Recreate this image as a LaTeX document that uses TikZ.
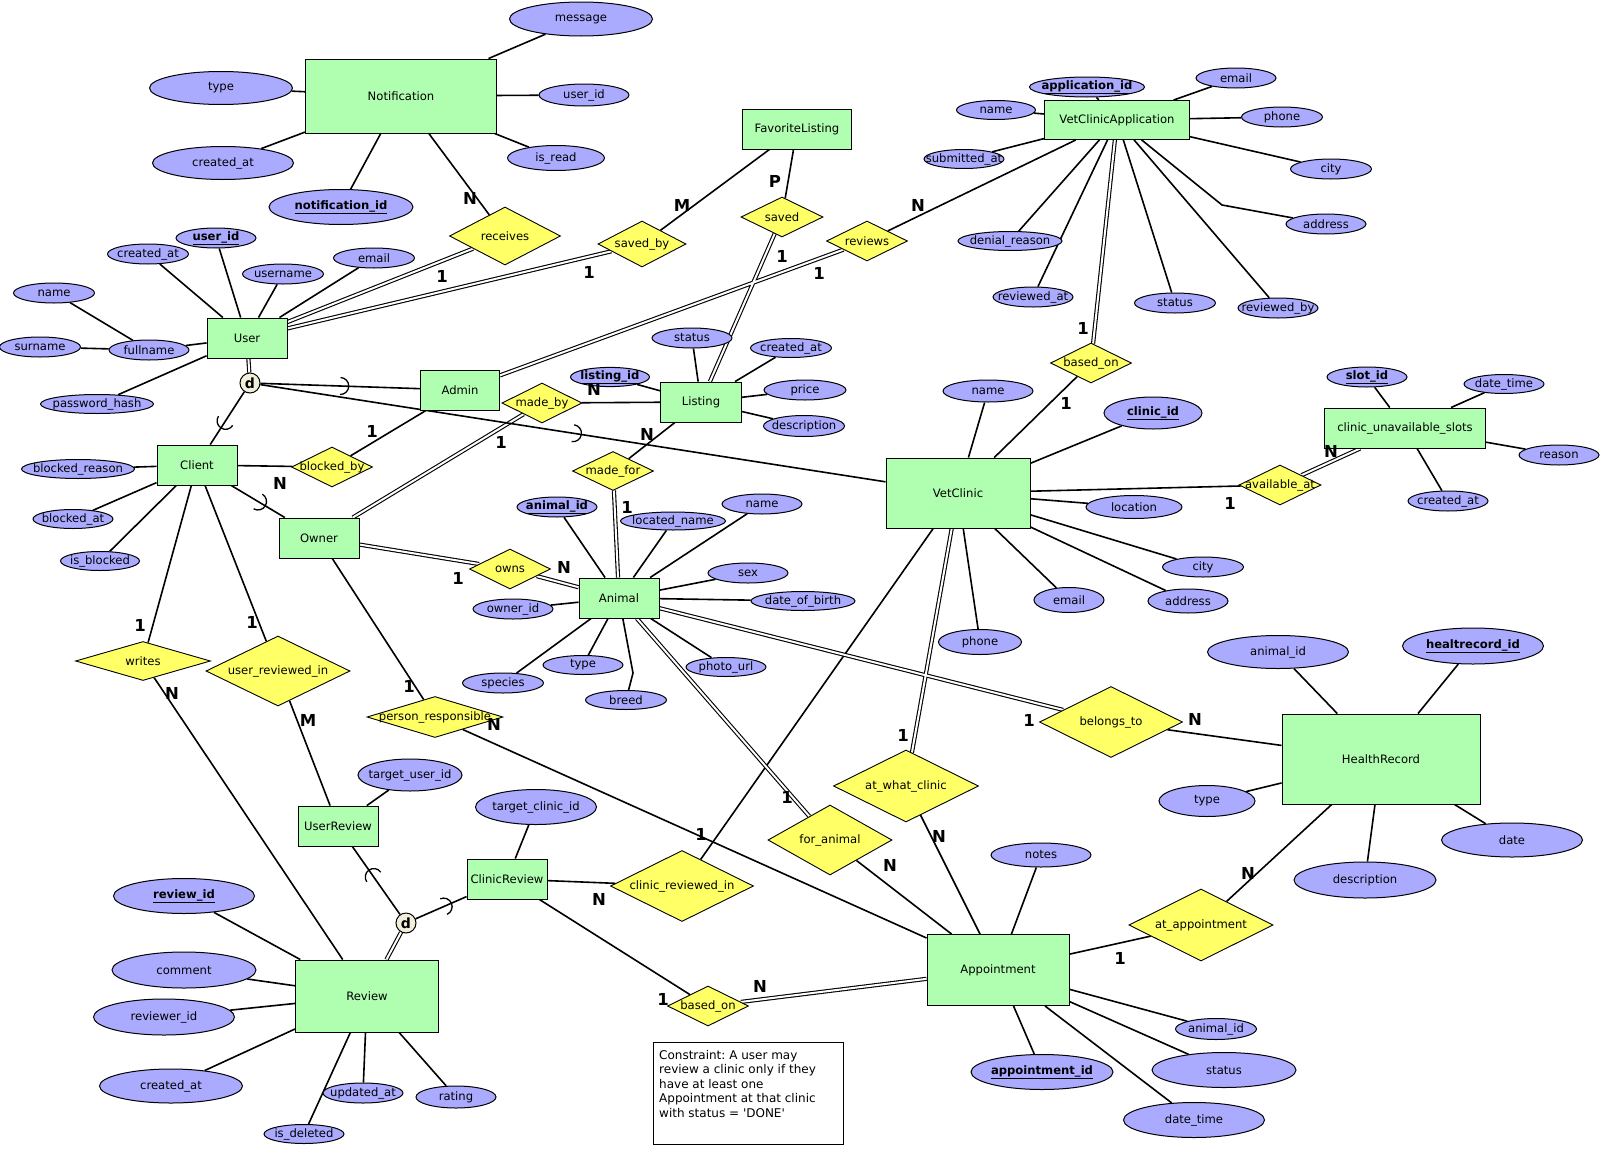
\documentclass[tikz,border=0pt]{standalone}
\usepackage{fontspec}
\setmainfont{DejaVu Sans}
\usetikzlibrary{shapes.geometric,backgrounds}

\definecolor{entgreen}{RGB}{176,255,176}
\definecolor{attrblue}{RGB}{170,170,255}
\definecolor{relyellow}{RGB}{255,255,102}
\definecolor{speccream}{RGB}{242,238,218}

\newcommand{\tx}[1]{\makebox[0pt]{#1}}
\newcommand{\key}[1]{\makebox[0pt]{\underline{\textbf{#1}}}}
\frenchspacing

\tikzset{
  sz/.style 2 args={minimum width=#1pt, minimum height=#2pt},
  ent/.style={rectangle, draw, fill=entgreen, line width=0.9pt, inner sep=0pt},
  attr/.style={ellipse, draw, fill=attrblue, line width=1pt, inner sep=0pt},
  rel/.style={diamond, draw, fill=relyellow, line width=0.9pt, inner sep=0pt},
  spec/.style={circle, draw, fill=speccream, line width=1pt, minimum size=20pt, inner sep=0pt, font=\fontsize{14pt}{14pt}\selectfont\bfseries},
  card/.style={inner sep=0pt, font=\fontsize{16.5pt}{16.5pt}\selectfont\bfseries},
  conn/.style={line width=1.6pt},
  dbl/.style={double, double distance=2pt, line width=1.1pt},
  subarc/.pic={\draw[line width=1.3pt] (0pt,-8.5pt) arc[start angle=-90, end angle=90, radius=8.5pt];},
  notebox/.style={rectangle, draw, line width=0.7pt, minimum width=190pt, minimum height=102pt},
  notetext/.style={inner sep=0pt, align=left, font=\fontsize{12pt}{14.5pt}\selectfont}
}

\begin{document}
\begin{tikzpicture}[x=1pt, y=1pt, font=\fontsize{11.6pt}{13pt}\selectfont]
\useasboundingbox (0,0) rectangle (1620,-1167);

% entities
\node[ent, sz={191}{74}] (notif) at (401,-96) {Notification};
\node[ent, sz={80}{40}] (user) at (247,-338) {User};
\node[ent, sz={79}{40}] (admin) at (460,-390) {Admin};
\node[ent, sz={80}{40}] (client) at (197,-465) {Client};
\node[ent, sz={80}{40}] (owner) at (319,-538) {Owner};
\node[ent, sz={109}{40}] (favlist) at (797,-129) {FavoriteListing};
\node[ent, sz={81}{40}] (listing) at (701,-402) {Listing};
\node[ent, sz={145}{39}] (vca) at (1117,-120) {VetClinicApplication};
\node[ent, sz={144}{70}] (vetclinic) at (958,-493) {VetClinic};
\node[ent, sz={161}{40}] (slots) at (1405,-428) {clinic\_unavailable\_slots};
\node[ent, sz={80}{40}] (animal) at (619,-598) {Animal};
\node[ent, sz={198}{90}] (hrec) at (1381,-759) {HealthRecord};
\node[ent, sz={80}{40}] (userrev) at (338,-826) {UserReview};
\node[ent, sz={80}{40}] (clinicrev) at (507,-879) {ClinicReview};
\node[ent, sz={143}{72}] (review) at (367,-996) {Review};
\node[ent, sz={142}{71}] (appt) at (998,-970) {Appointment};

% relationships
\node[rel, sz={111}{58}] (receives) at (505,-236) {\tx{receives}};
\node[rel, sz={88}{46}] (savedby) at (642,-244) {\tx{saved\_by}};
\node[rel, sz={82}{40}] (saved) at (782,-217) {\tx{saved}};
\node[rel, sz={81}{40}] (reviews) at (867,-241) {\tx{reviews}};
\node[rel, sz={81}{40}] (basedonapp) at (1091,-363) {\tx{based\_on}};
\node[rel, sz={80}{40}] (madeby) at (542,-403) {\tx{made\_by}};
\node[rel, sz={81}{40}] (blockedby) at (332,-467) {\tx{blocked\_by}};
\node[rel, sz={81}{39}] (madefor) at (613,-471) {\tx{made\_for}};
\node[rel, sz={81}{40}] (owns) at (510,-569) {\tx{owns}};
\node[rel, sz={82}{40}] (availat) at (1280,-485) {\tx{available\_at}};
\node[rel, sz={135}{39}] (writes) at (143,-661) {\tx{writes}};
\node[rel, sz={144}{70}] (userrevin) at (278,-671) {\tx{user\_reviewed\_in}};
\node[rel, sz={136}{41}] (persresp) at (435,-717) {\tx{person\_responsible}};
\node[rel, sz={143}{71}] (belongs) at (1111,-722) {\tx{belongs\_to}};
\node[rel, sz={145}{72}] (atclinic) at (906,-786) {\tx{at\_what\_clinic}};
\node[rel, sz={124}{70}] (foranimal) at (830,-840) {\tx{for\_animal}};
\node[rel, sz={143}{71}] (clinicrevin) at (682,-886) {\tx{clinic\_reviewed\_in}};
\node[rel, sz={81}{40}] (basedonrev) at (708,-1006) {\tx{based\_on}};
\node[rel, sz={144}{72}] (atappt) at (1201,-925) {\tx{at\_appointment}};

% attributes of Notification
\node[attr, sz={143}{34}] (nmessage) at (581,-19) {\tx{message}};
\node[attr, sz={143}{33}] (ntype) at (221,-88) {\tx{type}};
\node[attr, sz={141}{33}] (ncreated) at (223,-163) {\tx{created\_at}};
\node[attr, sz={144}{35}] (nid) at (341,-207) {\key{notification\_id}};
\node[attr, sz={90}{22}] (nuser) at (584,-95) {\tx{user\_id}};
\node[attr, sz={97}{25}] (nread) at (556,-158) {\tx{is\_read}};
% attributes of User
\node[attr, sz={80}{20}] (uid) at (216,-238) {\key{user\_id}};
\node[attr, sz={81}{20}] (ucreated) at (148,-254) {\tx{created\_at}};
\node[attr, sz={81}{20}] (uname) at (283,-274) {\tx{username}};
\node[attr, sz={81}{20}] (uemail) at (374,-258) {\tx{email}};
\node[attr, sz={81}{20}] (fname) at (54,-293) {\tx{name}};
\node[attr, sz={81}{20}] (sname) at (40,-347) {\tx{surname}};
\node[attr, sz={80}{20}] (fullname) at (149,-350) {\tx{fullname}};
\node[attr, sz={113}{19}] (upass) at (97,-404) {\tx{password\_hash}};
% attributes of Client
\node[attr, sz={113}{19}] (breason) at (78,-469) {\tx{blocked\_reason}};
\node[attr, sz={80}{19}] (bat) at (73,-519) {\tx{blocked\_at}};
\node[attr, sz={79}{19}] (isblocked) at (100,-561) {\tx{is\_blocked}};
% attributes of Listing
\node[attr, sz={80}{20}] (lstatus) at (692,-338) {\tx{status}};
\node[attr, sz={81}{19}] (lcreated) at (791,-348) {\tx{created\_at}};
\node[attr, sz={79}{18}] (lid) at (610,-377) {\key{listing\_id}};
\node[attr, sz={82}{20}] (lprice) at (805,-390) {\tx{price}};
\node[attr, sz={81}{21}] (ldesc) at (804,-426) {\tx{description}};
% attributes of VetClinicApplication
\node[attr, sz={115}{20}] (appid) at (1087,-87) {\key{application\_id}};
\node[attr, sz={79}{19}] (vaname) at (996,-110) {\tx{name}};
\node[attr, sz={80}{19}] (vasub) at (964,-159) {\tx{submitted\_at}};
\node[attr, sz={80}{20}] (vaemail) at (1236,-78) {\tx{email}};
\node[attr, sz={81}{20}] (vaphone) at (1282,-117) {\tx{phone}};
\node[attr, sz={81}{20}] (vacity) at (1331,-169) {\tx{city}};
\node[attr, sz={80}{20}] (vaaddr) at (1326,-224) {\tx{address}};
\node[attr, sz={104}{19}] (vadenial) at (1010,-241) {\tx{denial\_reason}};
\node[attr, sz={80}{20}] (varevat) at (1033,-297) {\tx{reviewed\_at}};
\node[attr, sz={81}{20}] (vastatus) at (1175,-303) {\tx{status}};
\node[attr, sz={80}{20}] (varevby) at (1278,-308) {\tx{reviewed\_by}};
% attributes of VetClinic
\node[attr, sz={90}{22}] (vcname) at (988,-391) {\tx{name}};
\node[attr, sz={98}{32}] (vcid) at (1153,-413) {\key{clinic\_id}};
\node[attr, sz={96}{23}] (vcloc) at (1134,-507) {\tx{location}};
\node[attr, sz={81}{20}] (vccity) at (1203,-567) {\tx{city}};
\node[attr, sz={80}{24}] (vcaddr) at (1188,-601) {\tx{address}};
\node[attr, sz={70}{25}] (vcemail) at (1069,-600) {\tx{email}};
\node[attr, sz={83}{25}] (vcphone) at (980,-642) {\tx{phone}};
% attributes of clinic_unavailable_slots
\node[attr, sz={80}{20}] (slotid) at (1367,-377) {\key{slot\_id}};
\node[attr, sz={80}{19}] (sdatetime) at (1504,-384) {\tx{date\_time}};
\node[attr, sz={80}{20}] (sreason) at (1559,-455) {\tx{reason}};
\node[attr, sz={80}{20}] (screated) at (1448,-501) {\tx{created\_at}};
% attributes of Animal
\node[attr, sz={80}{20}] (aid) at (557,-507) {\key{animal\_id}};
\node[attr, sz={105}{18}] (aloc) at (673,-521) {\tx{located\_name}};
\node[attr, sz={80}{20}] (aname) at (762,-504) {\tx{name}};
\node[attr, sz={80}{20}] (asex) at (748,-573) {\tx{sex}};
\node[attr, sz={104}{19}] (adob) at (803,-601) {\tx{date\_of\_birth}};
\node[attr, sz={80}{20}] (aowner) at (513,-609) {\tx{owner\_id}};
\node[attr, sz={81}{20}] (aspecies) at (503,-683) {\tx{species}};
\node[attr, sz={80}{19}] (atype) at (583,-665) {\tx{type}};
\node[attr, sz={81}{19}] (abreed) at (626,-700) {\tx{breed}};
\node[attr, sz={80}{19}] (aphoto) at (726,-667) {\tx{photo\_url}};
% attributes of HealthRecord
\node[attr, sz={141}{33}] (hanimal) at (1278,-652) {\tx{animal\_id}};
\node[attr, sz={141}{36}] (hid) at (1473,-646) {\key{healtrecord\_id}};
\node[attr, sz={96}{31}] (htype) at (1207,-801) {\tx{type}};
\node[attr, sz={141}{34}] (hdate) at (1512,-840) {\tx{date}};
\node[attr, sz={142}{36}] (hdesc) at (1365,-880) {\tx{description}};
% attributes of Appointment
\node[attr, sz={100}{24}] (notes) at (1041,-855) {\tx{notes}};
\node[attr, sz={142}{35}] (apid) at (1042,-1072) {\key{appointment\_id}};
\node[attr, sz={81}{21}] (apanimal) at (1216,-1029) {\tx{animal\_id}};
\node[attr, sz={144}{35}] (apstatus) at (1224,-1070) {\tx{status}};
\node[attr, sz={141}{35}] (apdate) at (1194,-1120) {\tx{date\_time}};
% attributes of the reviews
\node[attr, sz={104}{32}] (tuid) at (410,-775) {\tx{target\_user\_id}};
\node[attr, sz={121}{35}] (tcid) at (536,-807) {\tx{target\_clinic\_id}};
\node[attr, sz={141}{35}] (rid) at (184,-896) {\key{review\_id}};
\node[attr, sz={144}{36}] (rcomment) at (184,-970) {\tx{comment}};
\node[attr, sz={141}{36}] (rreviewer) at (164,-1017) {\tx{reviewer\_id}};
\node[attr, sz={143}{34}] (rcreated) at (171,-1086) {\tx{created\_at}};
\node[attr, sz={80}{20}] (rupdated) at (363,-1093) {\tx{updated\_at}};
\node[attr, sz={80}{19}] (rdeleted) at (304,-1134) {\tx{is\_deleted}};
\node[attr, sz={80}{22}] (rrating) at (456,-1097) {\tx{rating}};

% specialisation circles
\node[spec] (dUser) at (250,-383) {d};
\node[spec] (dReview) at (406,-923) {d};

% constraint note
\node[notebox] (note) at (748,-1093) {};
\node[notetext, anchor=north west] (notetxt) at (659,-1050) {Constraint: A user may\\review a clinic only if they\\have at least one\\Appointment at that clinic\\with status = \textquotesingle DONE\textquotesingle};

\coordinate (vabend) at (1222,-205);
\coordinate (abend) at (633,-673);

\begin{scope}[on background layer]
% attribute lines
\draw[conn] (notif) -- (nmessage) (notif) -- (ntype) (notif) -- (ncreated)
  (notif) -- (nid) (notif) -- (nuser) (notif) -- (nread);
\draw[conn] (user) -- (uid) (user) -- (ucreated) (user) -- (uname) (user) -- (uemail)
  (user) -- (fullname) (user) -- (upass) (fullname) -- (fname) (fullname) -- (sname);
\draw[conn] (client) -- (breason) (client) -- (bat) (client) -- (isblocked);
\draw[conn] (listing) -- (lstatus) (listing) -- (lcreated) (listing) -- (lid)
  (listing) -- (lprice) (listing) -- (ldesc);
\draw[conn] (vca) -- (appid) (vca) -- (vaname) (vca) -- (vasub) (vca) -- (vaemail)
  (vca) -- (vaphone) (vca) -- (vacity) (vca) -- (vadenial) (vca) -- (varevat)
  (vca) -- (vastatus) (vca) -- (varevby) (vca) -- (vabend) -- (vaaddr);
\draw[conn] (vetclinic) -- (vcname) (vetclinic) -- (vcid) (vetclinic) -- (vcloc)
  (vetclinic) -- (vccity) (vetclinic) -- (vcaddr) (vetclinic) -- (vcemail) (vetclinic) -- (vcphone);
\draw[conn] (slots) -- (slotid) (slots) -- (sdatetime) (slots) -- (sreason) (slots) -- (screated);
\draw[conn] (animal) -- (aid) (animal) -- (aloc) (animal) -- (aname) (animal) -- (asex)
  (animal) -- (adob) (animal) -- (aowner) (animal) -- (aspecies) (animal) -- (atype)
  (animal) -- (aphoto) (animal) -- (abend) -- (abreed);
\draw[conn] (hrec) -- (hanimal) (hrec) -- (hid) (hrec) -- (htype) (hrec) -- (hdate) (hrec) -- (hdesc);
\draw[conn] (appt) -- (notes) (appt) -- (apid) (appt) -- (apanimal) (appt) -- (apstatus) (appt) -- (apdate);
\draw[conn] (userrev) -- (tuid) (clinicrev) -- (tcid);
\draw[conn] (review) -- (rid) (review) -- (rcomment) (review) -- (rreviewer) (review) -- (rcreated)
  (review) -- (rupdated) (review) -- (rdeleted) (review) -- (rrating);

% relationship lines
\draw[conn] (notif) -- (receives);
\draw[conn] (client) -- (blockedby) (blockedby) -- (admin);
\draw[conn] (savedby) -- (favlist) (saved) -- (favlist);
\draw[conn] (reviews) -- (vca);
\draw[conn] (madeby) -- (listing) (listing) -- (madefor);
\draw[conn] (vetclinic) -- (basedonapp) (vetclinic) -- (availat) (vetclinic) -- (clinicrevin);
\draw[conn] (client) -- (writes) (client) -- (userrevin);
\draw[conn] (writes) -- (review) (userrevin) -- (userrev);
\draw[conn] (owner) -- (persresp) (persresp) -- (appt);
\draw[conn] (belongs) -- (hrec) (hrec) -- (atappt) (appt) -- (atappt);
\draw[conn] (atclinic) -- (appt) (foranimal) -- (appt);
\draw[conn] (clinicrev) -- (clinicrevin) (clinicrev) -- (basedonrev);
\draw[dbl] (user) -- (dUser);
\draw[dbl] (receives) -- (user) (savedby) -- (user);
\draw[dbl] (saved) -- (listing) (reviews) -- (admin);
\draw[dbl] (vca) -- (basedonapp) (owner) -- (madeby);
\draw[dbl] (madefor) -- (animal) (owner) -- (owns) (owns) -- (animal);
\draw[dbl] (availat) -- (slots);
\draw[dbl] (animal) -- (belongs) (animal) -- (foranimal) (vetclinic) -- (atclinic);
\draw[dbl] (basedonrev) -- (appt) (dReview) -- (review);

% specialisation lines
\draw[conn] (dUser) -- (admin) pic[pos=.5, sloped, allow upside down] {subarc};
\draw[conn] (dUser) -- (vetclinic) pic[pos=.5, sloped, allow upside down] {subarc};
\draw[conn] (dUser) -- (client) pic[pos=.55, sloped, allow upside down] {subarc};
\draw[conn] (client) -- (owner) pic[pos=.5, sloped, allow upside down] {subarc};
\draw[conn] (dReview) -- (userrev) pic[pos=.55, sloped, allow upside down] {subarc};
\draw[conn] (dReview) -- (clinicrev) pic[pos=.55, sloped, allow upside down] {subarc};
\end{scope}

% cardinalities
\node[card] (kRecvN) at (470,-198) {N};
\node[card] (kRecv1) at (442,-276) {1};
\node[card] (kSavedBy1) at (589,-272) {1};
\node[card] (kSavedByM) at (682,-205) {M};
\node[card] (kSavedP) at (775,-181) {P};
\node[card] (kSaved1) at (782,-256) {1};
\node[card] (kReviews1) at (819,-273) {1};
\node[card] (kReviewsN) at (918,-205) {N};
\node[card] (kBasedApp1) at (1083,-328) {1};
\node[card] (kBasedClinic1) at (1066,-403) {1};
\node[card] (kMadeByN) at (594,-389) {N};
\node[card] (kBlocked1) at (372,-431) {1};
\node[card] (kBlockedN) at (280,-483) {N};
\node[card] (kMadeBy1) at (501,-442) {1};
\node[card] (kMadeForN) at (647,-434) {N};
\node[card] (kMadeFor1) at (627,-507) {1};
\node[card] (kOwns1) at (458,-578) {1};
\node[card] (kOwnsN) at (564,-567) {N};
\node[card] (kAvail1) at (1230,-503) {1};
\node[card] (kAvailN) at (1331,-451) {N};
\node[card] (kWrites1) at (140,-625) {1};
\node[card] (kUserRev1) at (252,-622) {1};
\node[card] (kWritesN) at (172,-693) {N};
\node[card] (kUserRevM) at (308,-720) {M};
\node[card] (kPers1) at (409,-686) {1};
\node[card] (kPersN) at (494,-724) {N};
\node[card] (kBelongs1) at (1029,-720) {1};
\node[card] (kBelongsN) at (1195,-719) {N};
\node[card] (kAtClinic1) at (903,-735) {1};
\node[card] (kAtClinicN) at (939,-836) {N};
\node[card] (kForAnimal1) at (787,-797) {1};
\node[card] (kForAnimalN) at (890,-865) {N};
\node[card] (kClinicRev1) at (701,-834) {1};
\node[card] (kClinicRevN) at (599,-899) {N};
\node[card] (kBasedRev1) at (663,-999) {1};
\node[card] (kBasedRevN) at (760,-986) {N};
\node[card] (kAtAppt1) at (1120,-958) {1};
\node[card] (kAtApptN) at (1248,-873) {N};
\end{tikzpicture}
\end{document}
